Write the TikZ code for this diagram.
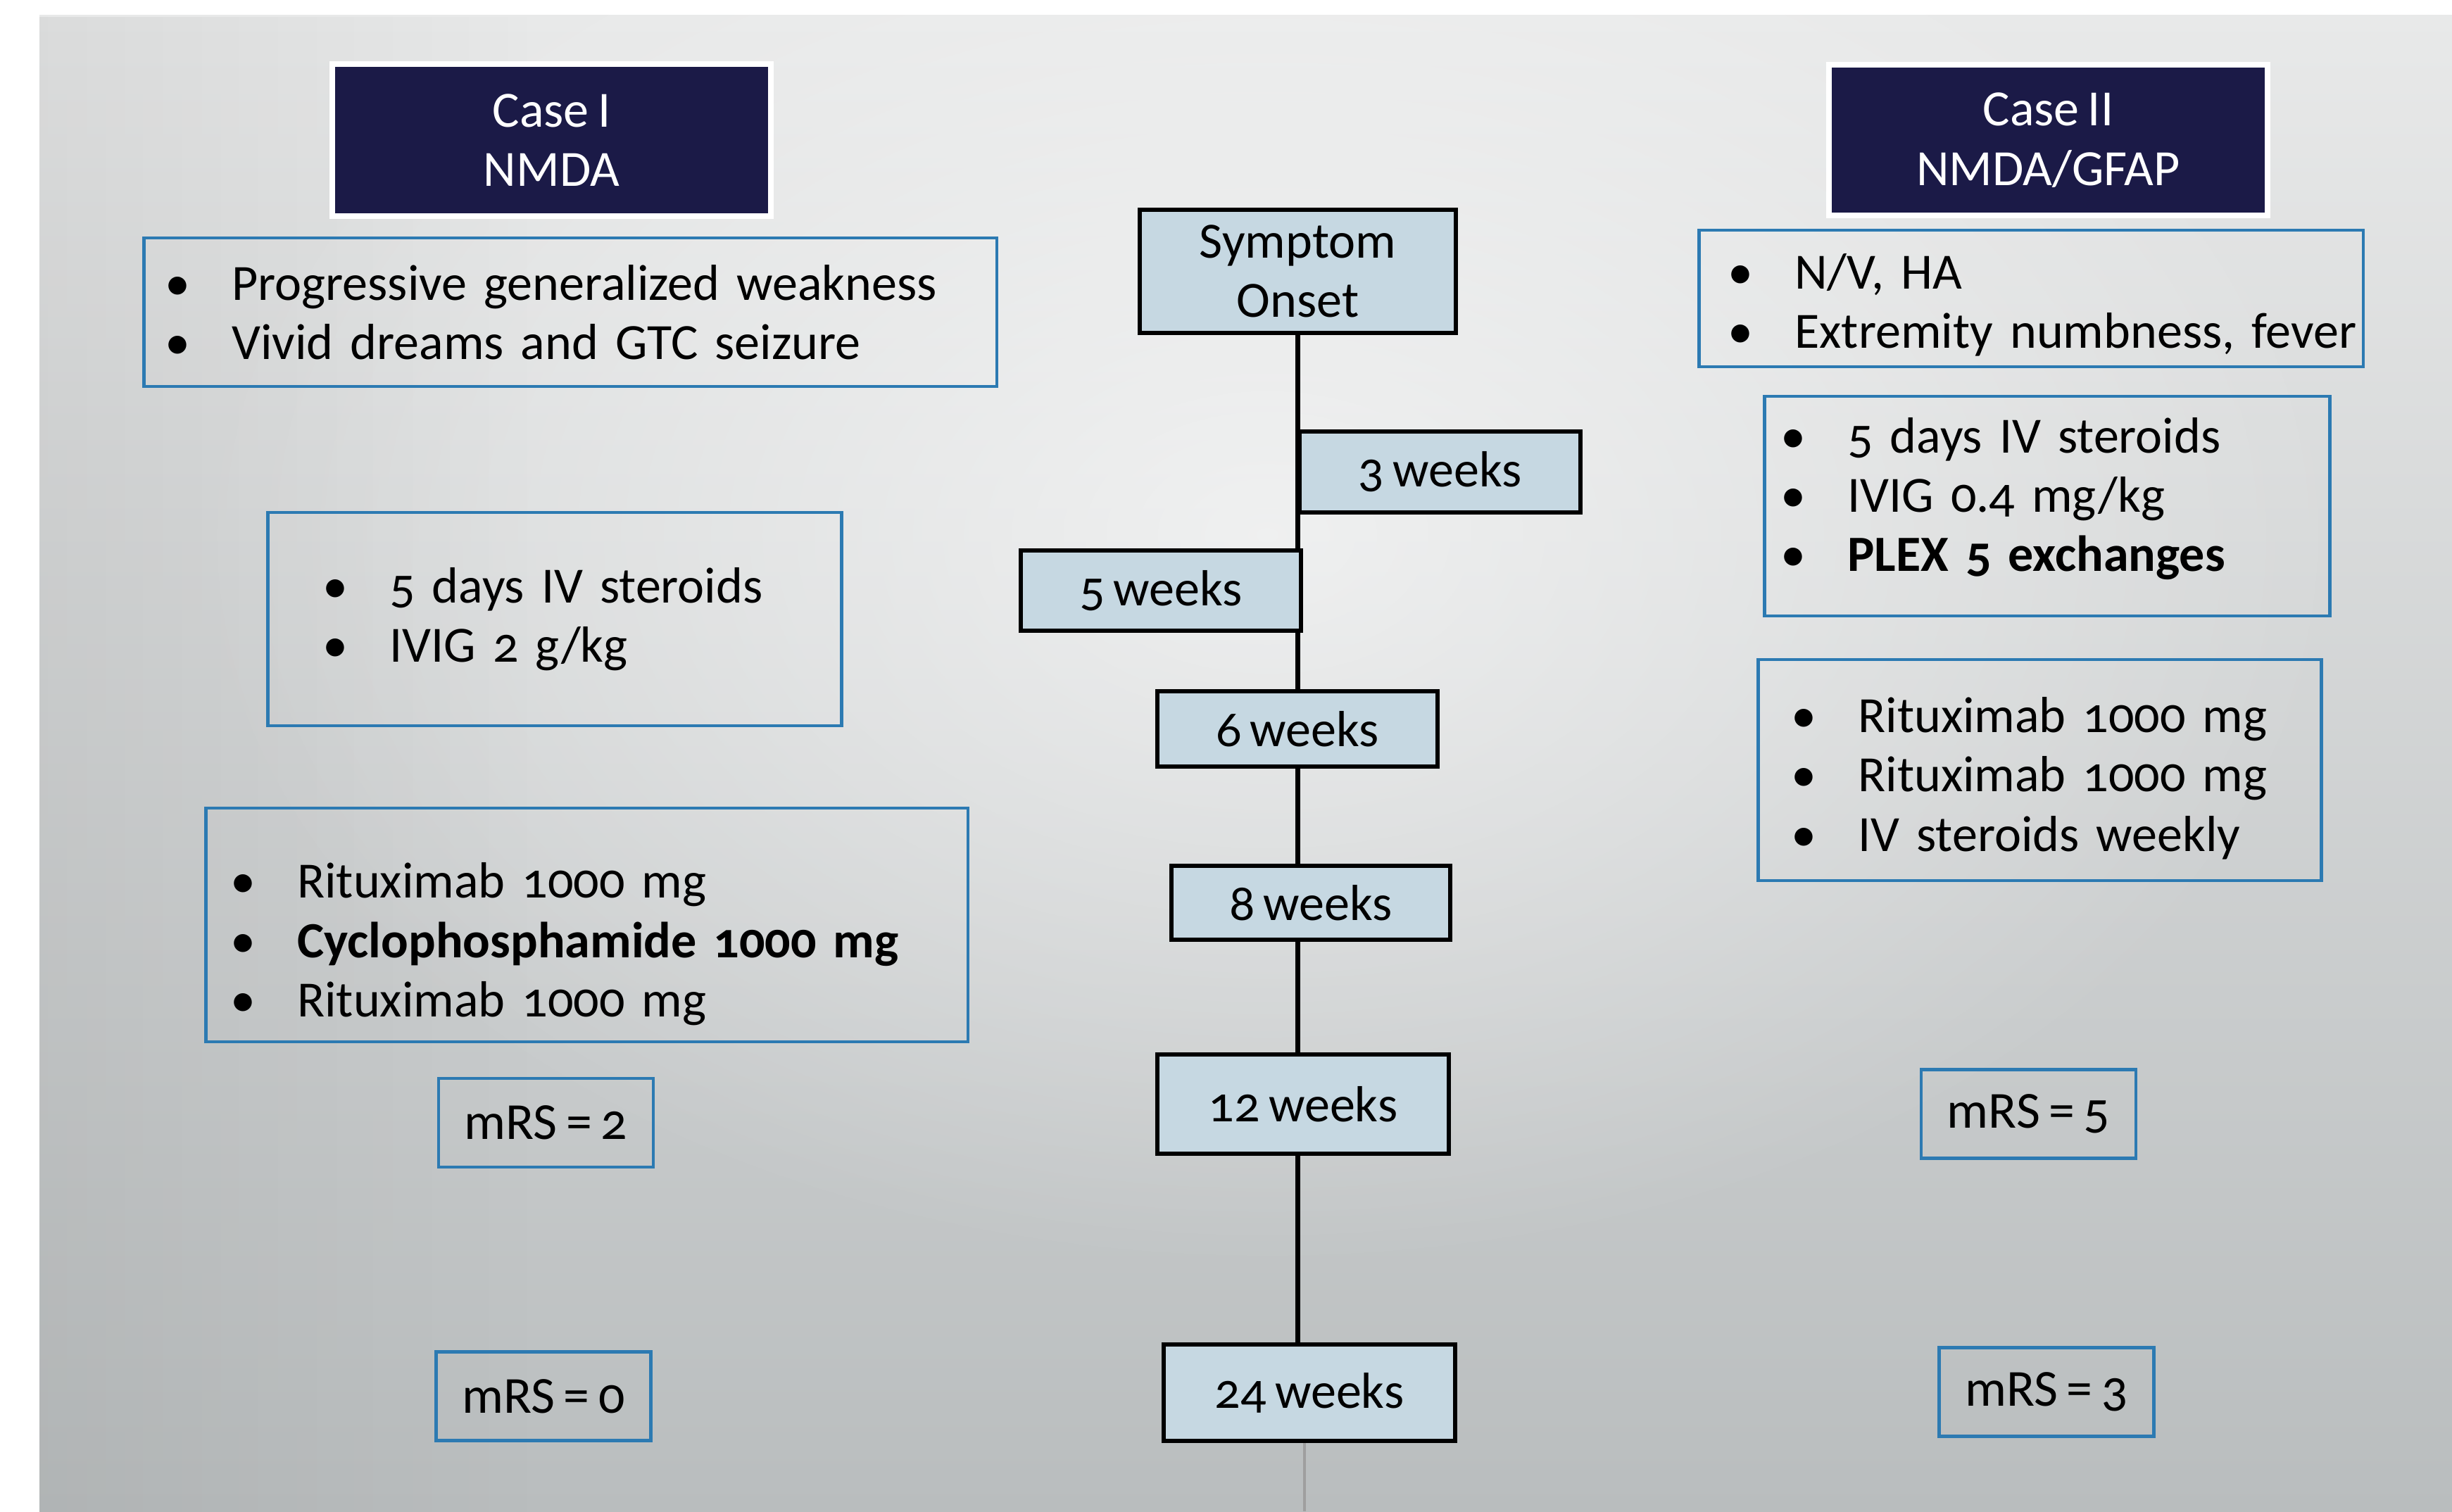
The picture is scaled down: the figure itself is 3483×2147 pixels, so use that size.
\documentclass[tikz,border=0pt]{standalone}
\usepackage{fontspec}
\setmainfont{Carlito}[Numbers=OldStyle, WordSpace=0.75]
\usetikzlibrary{positioning,fadings}

\definecolor{casenavy}{RGB}{27,26,71}
\definecolor{boxblue}{RGB}{44,122,178}
\definecolor{weekfill}{RGB}{198,216,226}
\definecolor{bgtop}{RGB}{232,233,233}
\definecolor{bgmid}{RGB}{224,225,226}
\definecolor{bgbottom}{RGB}{185,189,190}

\tikzfading[name=softspot, inner color=transparent!0, outer color=transparent!100]
\pgfdeclarelayer{bg}
\pgfdeclarelayer{back}
\pgfsetlayers{bg,back,main}

% one bullet line, never wrapped
\newcommand{\bul}[1]{\mbox{\makebox[0.95cm][l]{\textbullet}#1}}
% invisible struts to nudge a list up or down in its box
\newcommand{\upstrut}[1]{\rule{0pt}{#1}}
\newcommand{\downstrut}[1]{\rule[-#1]{0pt}{#1}}

\begin{document}
\begin{tikzpicture}[x=0.01cm, y=-0.01cm,
    every node/.style={font=\fontsize{20.5}{24}\selectfont},
    casebox/.style={draw=white, line width=0.08cm, fill=casenavy, text=white, align=center},
    listbox/.style={draw=boxblue, line width=1.3pt, align=left, anchor=west, inner ysep=0pt},
    mrsbox/.style={draw=boxblue, line width=1.3pt, minimum width=3.05cm, minimum height=1.26cm, font=\fontsize{21}{24}\selectfont},
    weekbox/.style={draw=black, line width=1.8pt, fill=weekfill, align=center, inner sep=0pt}]

    \useasboundingbox (0,0) rectangle (3483,2147);

    % slide background
    \begin{pgfonlayer}{bg}
        \fill[white] (0,0) rectangle (3483,2147);
        \shade[top color=bgtop, middle color=bgmid, bottom color=bgbottom] (56,21) rectangle (3483,2147);
        \fill[white, opacity=0.6, path fading=softspot] (1800,760) ellipse (1550 and 1050);
        \fill[black!60, opacity=0.10, path fading=east] (56,21) rectangle (760,2147);
    \end{pgfonlayer}

    % headers
    \node[casebox, minimum width=6.23cm, minimum height=2.15cm] (case1) at (783.5,199) {Case I\\NMDA};
    \node[casebox, minimum width=6.22cm, minimum height=2.14cm] (case2) at (2909.5,199) {Case II\\NMDA/GFAP};

    % case I
    \node[listbox, inner xsep=0.30cm, text width=11.51cm, minimum height=2.11cm] (sympt1) at (202,443.5)
        {\bul{Progressive generalized weakness}\\\bul{Vivid dreams and GTC seizure}};
    \node[listbox, inner xsep=0.78cm, text width=6.59cm, minimum height=3.03cm] (treat1) at (378,879.5)
        {\bul{5 days IV steroids}\\\bul{IVIG 2 g/kg}};
    \node[listbox, inner xsep=0.35cm, text width=10.12cm, minimum height=3.32cm] (rtx1) at (290,1314)
        {\upstrut{1.05cm}\bul{Rituximab 1000 mg}\\\bul{\textbf{Cyclophosphamide 1000 mg}}\\\bul{Rituximab 1000 mg}};
    \node[mrsbox] (mrs2) at (775.5,1595) {mRS = 2};
    \node[mrsbox] (mrs0) at (772,1983.5) {mRS = 0};

    % case II
    \node[listbox, inner xsep=0.41cm, text width=8.61cm, minimum height=1.94cm] (sympt2) at (2411,424)
        {\upstrut{0.68cm}\bul{N/V, HA}\\\bul{Extremity numbness, fever}};
    \node[listbox, inner xsep=0.23cm, text width=7.57cm, minimum height=3.12cm] (treat2) at (2504,719)
        {\bul{5 days IV steroids}\\\bul{IVIG 0.4 mg/kg}\\\bul{\textbf{PLEX 5 exchanges}}\downstrut{0.33cm}};
    \node[listbox, inner xsep=0.47cm, text width=7.06cm, minimum height=3.14cm] (rtx2) at (2495,1094)
        {\upstrut{0.73cm}\bul{Rituximab 1000 mg}\\\bul{Rituximab 1000 mg}\\\bul{IV steroids weekly}};
    \node[mrsbox] (mrs5) at (2881.5,1582.5) {mRS = 5};
    \node[mrsbox] (mrs3) at (2907,1977.5) {mRS = 3};

    % timeline
    \node[weekbox, minimum width=4.49cm, minimum height=1.75cm] (onset) at (1843.5,385.5) {Symptom\\Onset};
    \node[weekbox, minimum width=3.99cm, minimum height=1.15cm] (w3) at (2045.5,670.5) {3 weeks};
    \node[weekbox, minimum width=3.98cm, minimum height=1.14cm] (w5) at (1649,839) {5 weeks};
    \node[weekbox, minimum width=3.98cm, minimum height=1.07cm] (w6) at (1843,1035.5) {6 weeks};
    \node[weekbox, minimum width=3.96cm, minimum height=1.05cm] (w8) at (1862,1282.5) {8 weeks};
    \node[weekbox, minimum width=4.14cm, minimum height=1.41cm] (w12) at (1851,1568.5) {12 weeks};
    \node[weekbox, minimum width=4.14cm, minimum height=1.37cm] (w24) at (1860,1978.5) {24 weeks};
    \coordinate (tailend) at (1853,2147);

    \begin{pgfonlayer}{back}
        \draw[line width=1.8pt] (onset.south) -- (onset.south |- w24.north);
        \draw[gray!75, line width=1pt] (tailend |- w24.south) -- (tailend);
    \end{pgfonlayer}
\end{tikzpicture}
\end{document}
